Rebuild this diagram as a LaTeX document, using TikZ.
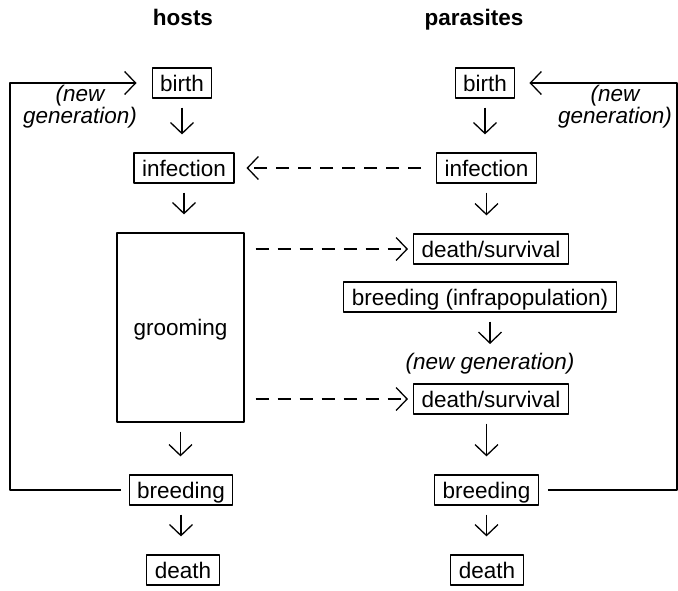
\documentclass[tikz,border=0pt]{standalone}
\usepackage{fontspec}
\setmainfont{Liberation Sans}
\usetikzlibrary{arrows.meta}
\tikzset{
	box/.style={draw, line width=1.2pt, inner xsep=8pt, inner ysep=0pt, minimum height=30pt, text height=21pt, text depth=5pt},
	tip/.style={-{Straight Barb[length=11pt,width=23pt]}, line width=1.3pt},
	dn/.style={tip, shorten <=9pt, shorten >=18pt},
	dsh/.style={tip, dash pattern=on 13pt off 9pt},
	gen/.style={font=\fontsize{22.5}{19}\selectfont\itshape, align=center},
	head/.style={font=\fontsize{22.5}{26}\selectfont\bfseries, anchor=base},
}
\begin{document}
\begin{tikzpicture}[x=1pt, y=-1pt, font=\fontsize{22.5}{26}\selectfont, line join=round]
	\useasboundingbox (0,0) rectangle (678,590);
	\node[head] (hhead) at (183,25) {hosts};
	\node[head] (phead) at (474,25) {parasites};
	% hosts
	\node[box] (hbirth) at (182,83) {birth};
	\node[box] (hinf) at (184,168) {infection};
	\node[box, minimum width=127pt, minimum height=189pt] (hgroom) at (180.5,327.5) {grooming};
	\node[box] (hbreed) at (181,490) {breeding};
	\node[box] (hdeath) at (183,570) {death};
	\draw[dn] (hbirth) -- (hbirth |- hinf.north);
	\draw[dn] (hinf) -- (hinf |- hgroom.north);
	\draw[dn] (hgroom) -- (hgroom |- hbreed.north);
	\draw[dn] (hbreed) -- (hbreed |- hdeath.north);
	% parasites
	\node[box] (pbirth) at (485,83) {birth};
	\node[box] (pinf) at (486.5,168) {infection};
	\node[box] (pds1) at (491,249) {death/survival};
	\node[box] (pbinf) at (480,297) {breeding (infrapopulation)};
	\node[gen] (pgen) at (490,364) {(new generation)};
	\node[box] (pds2) at (491,399) {death/survival};
	\node[box] (pbreed) at (486.5,490) {breeding};
	\node[box] (pdeath) at (487,570) {death};
	\draw[dn] (pbirth) -- (pbirth |- pinf.north);
	\draw[dn] (pinf) -- (pinf |- pds1.north);
	\draw[dn, shorten >=6pt] (pgen |- pbinf.south) -- (pgen);
	\draw[dn] (pbreed |- pds2.south) -- (pbreed);
	\draw[dn] (pbreed) -- (pbreed |- pdeath.north);
	% dashed links
	\draw[dsh, shorten <=15pt, shorten >=12pt] (pinf) -- (hinf);
	\draw[dsh, shorten <=11pt, shorten >=5pt] (hgroom.east |- pds1.west) -- (pds1);
	\draw[dsh, shorten <=11pt, shorten >=5pt] (hgroom.east |- pds2.west) -- (pds2);
	% new generation loops
	\coordinate (hloop) at (10,300);
	\coordinate (ploop) at (677,300);
	\draw[tip, shorten <=8pt, shorten >=15pt] (hbreed.west) -| (hloop) |- (hbirth.west);
	\draw[tip, shorten <=9pt, shorten >=14pt] (pbreed.east) -| (ploop) |- (pbirth.east);
	\node[gen] (hgen) at (80,107) {(new\\generation)};
	\node[gen] (pgen2) at (615,107) {(new\\generation)};
\end{tikzpicture}
\end{document}
